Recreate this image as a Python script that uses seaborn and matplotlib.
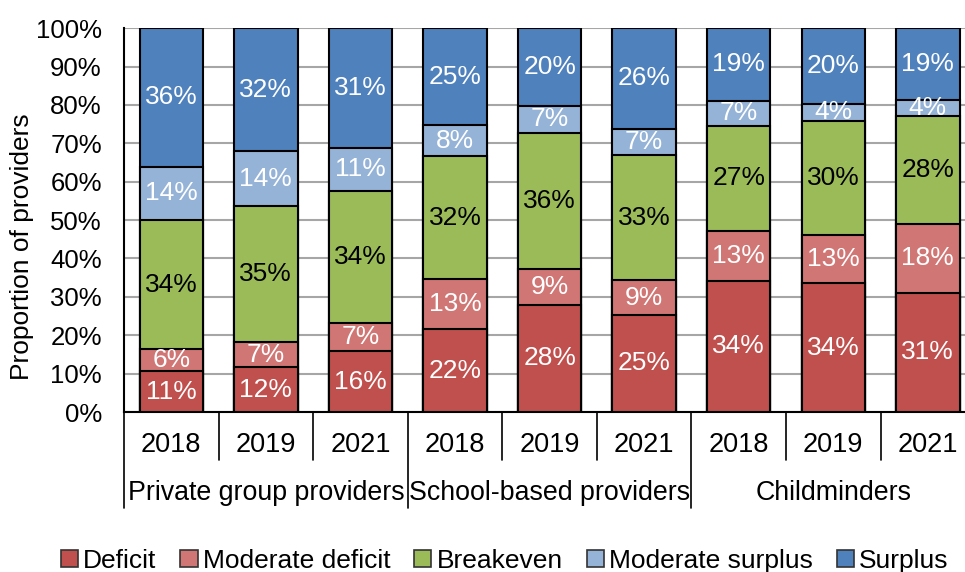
import matplotlib
matplotlib.use("Agg")
import matplotlib.pyplot as plt
from matplotlib.patches import Patch
import pandas as pd
import seaborn as sns

# groups / years along the x axis
groups = ["Private group providers", "School-based providers", "Childminders"]
years = ["2018", "2019", "2021"]

series_names = ["Deficit", "Moderate deficit", "Breakeven", "Moderate surplus", "Surplus"]
series_colors = ["#C0504D", "#D07674", "#9BBB59", "#95B3D7", "#4F81BD"]
label_colors = ["white", "white", "black", "white", "white"]

# % of providers, one value per bar (3 private, 3 school, 3 childminders)
deficit = [10.6, 11.6, 15.8, 21.6, 28.0, 25.3, 34.2, 33.6, 31.1]
moderate_deficit = [5.7, 6.6, 7.4, 13.0, 9.2, 9.0, 13.0, 12.6, 18.0]
breakeven = [33.7, 35.4, 34.4, 32.0, 35.6, 32.6, 27.3, 29.7, 28.0]
moderate_surplus = [13.9, 14.4, 11.3, 8.1, 6.9, 6.9, 6.6, 4.3, 4.3]
surplus = [36.1, 32.0, 31.1, 25.3, 20.3, 26.2, 18.9, 19.8, 18.6]

series_values = [deficit, moderate_deficit, breakeven, moderate_surplus, surplus]

bar_keys = [f"{g} {y}" for g in groups for y in years]
df = pd.DataFrame({"bar": bar_keys})
for name, vals in zip(series_names, series_values):
    df[name] = vals
# cumulative tops, drawn tallest first so lower segments sit on top
cum = df[series_names].cumsum(axis=1)

sns.set_style("white")
plt.rcParams["font.family"] = ["Liberation Sans", "DejaVu Sans"]
plt.rcParams["text.color"] = "black"
plt.rcParams["axes.labelcolor"] = "black"
plt.rcParams["ytick.color"] = "black"

fig = plt.figure(figsize=(9.65, 5.72), dpi=100)
ax = fig.add_axes([0.1285, 0.2797, 0.882, 0.671])

for name, color in reversed(list(zip(series_names, series_colors))):
    sns.barplot(x=df["bar"], y=cum[name], order=bar_keys, color=color,
                width=0.67, edgecolor="black", linewidth=1.5, saturation=1,
                ax=ax, zorder=3)

# segment labels
for i in range(len(bar_keys)):
    base = 0.0
    for name, tc in zip(series_names, label_colors):
        v = df[name].iloc[i]
        ax.text(i, base + v / 2, f"{v:.0f}%", ha="center", va="center",
                color=tc, fontsize=19, zorder=5)
        base += v

ax.set_ylim(0, 100)
ax.set_xlim(-0.5, len(bar_keys) - 0.5)
ax.set_yticks(range(0, 101, 10))
ax.set_yticklabels([f"{t}%" for t in range(0, 101, 10)], fontsize=18.5)
ax.tick_params(axis="y", length=0, pad=16)
ax.yaxis.grid(True, color="#A6A6A6", linewidth=1.5, zorder=0)
ax.set_axisbelow(True)
ax.set_xticks([])
ax.set_xlabel("")
ax.set_ylabel("Proportion of providers", fontsize=19)
ax.yaxis.set_label_coords(-0.106, 0.432)
for s in ["top", "right"]:
    ax.spines[s].set_visible(False)
for s in ["left", "bottom"]:
    ax.spines[s].set_color("black")
    ax.spines[s].set_linewidth(1.5)

# two-level category axis
trans = ax.get_xaxis_transform()
for i, y in enumerate(years * len(groups)):
    ax.text(i, -0.086, y, transform=trans, ha="center", va="center", fontsize=19.5)
for k in range(len(bar_keys) + 1):
    x = k - 0.5
    low = -0.25 if k % len(years) == 0 else -0.125
    ax.plot([x, x], [0, low], transform=trans, color="black", linewidth=1.2, clip_on=False)
for j, g in enumerate(groups):
    ax.text(j * len(years) + 1, -0.21, g, transform=trans, ha="center", va="center",
            fontsize=19.3)

handles = [Patch(facecolor=c, edgecolor="#333333", linewidth=1.2) for c in series_colors]
fig.legend(handles, series_names, loc="lower center", bbox_to_anchor=(0.523, -0.043),
           ncol=5, frameon=False, fontsize=19, handlelength=0.65, handleheight=0.65,
           handletextpad=0.2, columnspacing=0.9)

fig.savefig("out.png", dpi=100)
